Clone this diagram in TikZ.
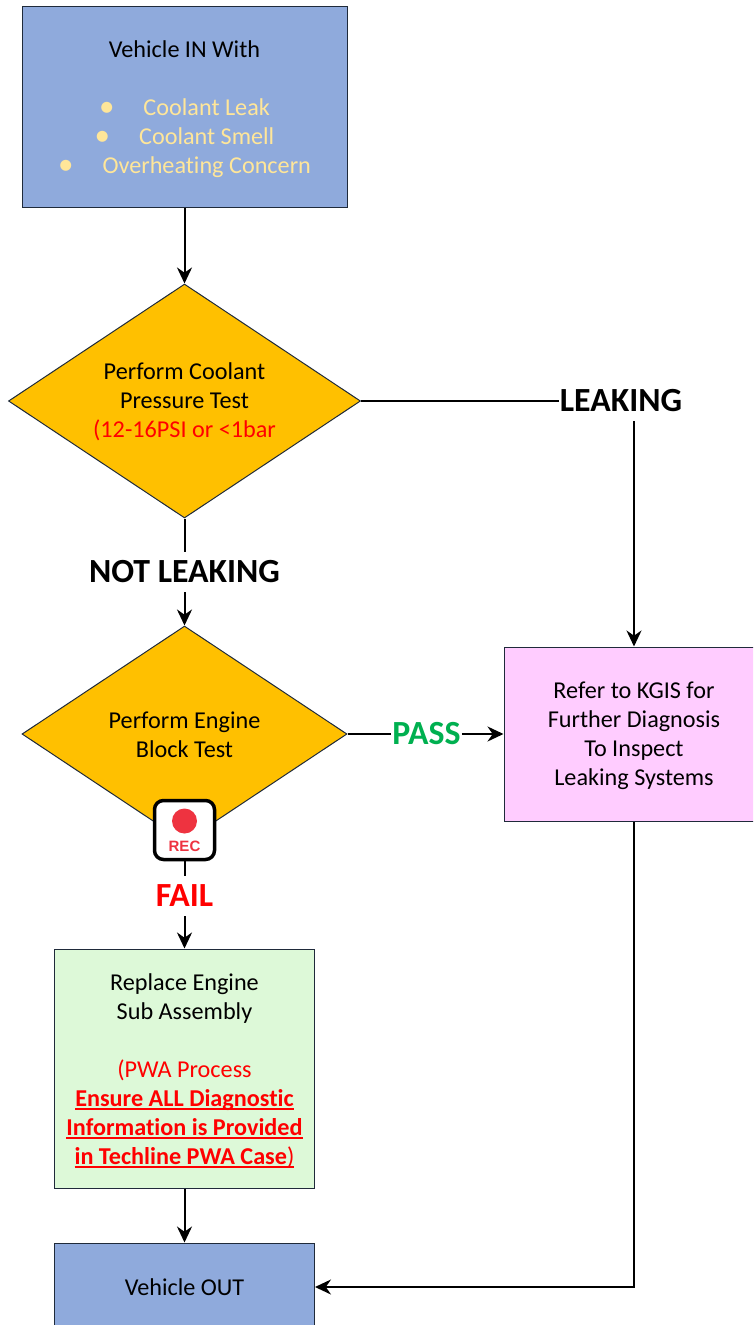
\documentclass[tikz,border=0pt]{standalone}
\usepackage{fontspec}
\setmainfont[Ligatures=NoCommon]{Carlito}
\newfontfamily\recfont{Liberation Sans}
\usetikzlibrary{shapes.geometric,arrows.meta,calc}
\definecolor{boxblue}{HTML}{8FAADC}
\definecolor{amber}{HTML}{FFC000}
\definecolor{lilac}{HTML}{FFCCFF}
\definecolor{mint}{HTML}{DDF9D8}
\definecolor{butter}{HTML}{FFE699}
\definecolor{passgreen}{HTML}{00B050}
\definecolor{recred}{HTML}{EE3340}
\definecolor{edge}{HTML}{1F2A3A}
\newcommand{\bodyfont}{\fontsize{24.2}{29}\selectfont}
\newcommand{\bul}[1]{\textcolor{butter}{{\fontsize{31}{29}\selectfont\raisebox{-1.5pt}{\textbullet}}\hspace{29pt}#1}}
\newcommand{\drop}[1]{\rule{0pt}{#1}}
\newsavebox{\ulbox}
\newcommand{\thickul}[1]{\sbox{\ulbox}{#1}\rlap{\rule[-4pt]{\wd\ulbox}{2pt}}\usebox{\ulbox}}
\tikzset{
  x=1pt,y=-1pt,
  flowbox/.style={draw=edge,line width=1pt,align=center,inner sep=0pt,font=\bodyfont,text=black},
  flowdiamond/.style={flowbox,shape=diamond,shape aspect=1.504,fill=amber,inner sep=0pt},
  flowlabel/.style={font=\fontsize{33.8}{36}\selectfont\bfseries,inner xsep=1pt,inner ysep=0pt,minimum height=40pt,text height=21pt,text depth=0pt},
  link/.style={draw=black,line width=2pt},
  arrowlink/.style={link,-{Stealth[length=16pt,width=15pt]}},
}
\begin{document}
\begin{tikzpicture}
\useasboundingbox (0,0) rectangle (753,1325);
\clip (0,0) rectangle (753,1325);
\node[flowbox,fill=boxblue,minimum width=325pt,minimum height=201pt] (start) at (184.5,107)
  {\drop{21pt}Vehicle IN With\\[29pt]\bul{Coolant Leak}\\\bul{Coolant Smell}\\\bul{Overheating Concern}};
\node[flowdiamond,minimum width=352pt,minimum height=234pt] (test1) at (184.5,401)
  {\drop{18pt}Perform Coolant\\Pressure Test\\\textcolor{red}{(12-16PSI or <1bar}};
\node[flowdiamond,minimum width=325pt,minimum height=216pt] (test2) at (184.5,734)
  {\drop{18pt}Perform Engine\\Block Test};
\node[flowbox,fill=lilac,minimum width=260pt,minimum height=174pt] (kgis) at (634,734)
  {\drop{20pt}Refer to KGIS for\\Further Diagnosis\\To Inspect\\Leaking Systems};
\node[flowbox,fill=mint,minimum width=260pt,minimum height=239pt] (replace) at (184.5,1068.5)
  {\drop{21pt}Replace Engine\\Sub Assembly\\[29pt]\textcolor{red}{(PWA Process}\\
   \textcolor{red}{\thickul{\textbf{Ensure ALL Diagnostic}}}\\
   \textcolor{red}{\thickul{\textbf{Information is Provided}}}\\
   \textcolor{red}{\thickul{\textbf{in Techline PWA Case})}}};
\node[flowbox,fill=boxblue,minimum width=260pt,minimum height=88pt] (out) at (184.5,1287) {Vehicle OUT};

\node[flowlabel,fill=white] (leaking) at (621,401) {LEAKING};
\node[flowlabel,fill=white] (notleak) at (184.5,572) {NOT LEAKING};
\node[flowlabel,fill=white,text=passgreen] (pass) at (426.5,734) {PASS};
\node[flowlabel,fill=white,text=red] (fail) at (184.5,896) {FAIL};

\draw[arrowlink] (start.south) -- (test1.north);
\draw[link] (test1.east) -- (leaking.west);
\draw[arrowlink] (leaking.south -| kgis.north) -- (kgis.north);
\draw[link] (test1.south) -- (notleak.north);
\draw[arrowlink] (notleak.south) -- (test2.north);
\draw[link] (test2.east) -- (pass.west);
\draw[arrowlink] (pass.east) -- (kgis.west);
\draw[arrowlink] (fail.south) -- (replace.north);
\draw[arrowlink] (replace.south) -- (out.north);
\draw[arrowlink] (kgis.south) |- (out.east);

\node[draw=black,fill=white,line width=3.5pt,rounded corners=9pt,minimum width=60pt,minimum height=59pt,inner sep=0pt] (rec) at (184.5,830) {};
\draw[link] (rec.south) -- (fail.north);
\fill[recred] ($(rec.center)+(0,-9)$) circle[radius=12.5pt];
\node[inner sep=0pt,text=recred,font=\recfont\fontsize{15}{15}\selectfont\bfseries] (rectext) at (184.5,846) {REC};
\end{tikzpicture}
\end{document}
